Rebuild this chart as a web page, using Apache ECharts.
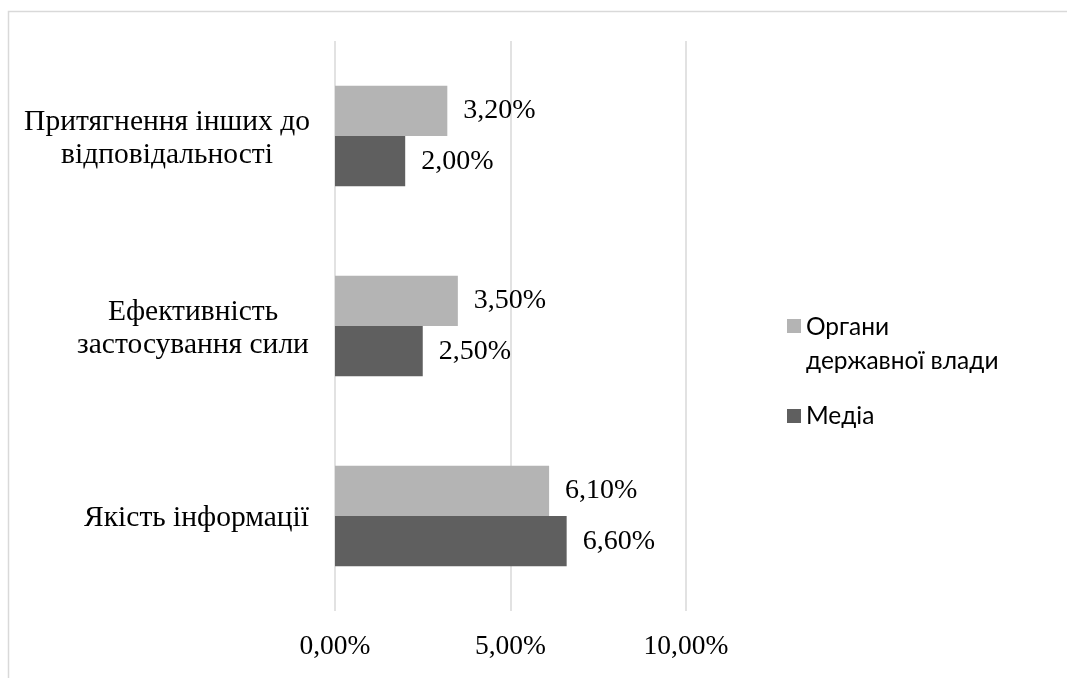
<!DOCTYPE html>
<html><head><meta charset="utf-8">
<script src="https://cdn.jsdelivr.net/npm/echarts@6/dist/echarts.min.js"></script>
<style>html,body{margin:0;padding:0;background:#fff}#c{width:1067px;height:678px}</style>
</head><body><div id="c"></div>
<script>
const categories = ['Якість інформації', 'Ефективність\nзастосування сили', 'Притягнення інших до\nвідповідальності'];
const seriesNames = ['Органи\nдержавної влади', 'Медіа'];
const organy = [6.1, 3.5, 3.2];
const media = [6.6, 2.5, 2.0];
const xTicks = [0, 5, 10];

const fmt = v => v.toFixed(2).replace('.', ',') + '%';
const chart = echarts.init(document.getElementById('c'));
const labelStyle = {show: true, position: 'right', distance: 16, formatter: p => fmt(p.value), fontFamily: 'Liberation Serif', fontSize: 28, color: '#000'};
const richBase = {align: 'center', fontFamily: 'Liberation Serif', fontSize: 29.5, lineHeight: 33, color: '#000'};
chart.setOption({
  animation: false,
  graphic: [{type:'rect', shape:{x:8.5,y:11.5,width:1100,height:700}, style:{fill:'none', stroke:'#d9d9d9', lineWidth:1.5}, silent:true}],
  grid: {left: 335, right: 381, top: 41, bottom: 67, containLabel: false},
  legend: {
    data: [
      {name: seriesNames[0], icon: 'path://M0,0L14,0L14,14L0,14Z M0,50L0,50'},
      {name: seriesNames[1], icon: 'path://M0,0L0,0 M0,18L14,18L14,32L0,32Z M0,50L0,50'}
    ],
    orient: 'vertical', left: 787, top: 310, padding: 0,
    itemWidth: 14, itemHeight: 50, itemGap: 13,
    textStyle: {fontFamily: 'Lato', fontSize: 24.5, color: '#000', lineHeight: 34}
  },
  xAxis: {
    type: 'value', min: xTicks[0], max: xTicks[xTicks.length-1], interval: xTicks[1]-xTicks[0],
    axisLine: {show: false}, axisTick: {show: false},
    splitLine: {lineStyle: {color: '#d9d9d9', width: 1.5}},
    axisLabel: {formatter: v => fmt(v), fontFamily: 'Liberation Serif', fontSize: 27.5, color: '#000', margin: 22}
  },
  yAxis: {
    type: 'category', data: categories,
    axisLine: {show: false}, axisTick: {show: false},
    axisLabel: {
      fontFamily: 'Liberation Serif', fontSize: 29.5, color: '#000', margin: 26, lineHeight: 33, padding: [5, 0, 0, 0],
      formatter: (v, i) => {
        if (v.indexOf('\n') < 0) return v;
        const k = i === 2 ? 'a' : 'b';
        return v.split('\n').map(s => '{' + k + '|' + s + '}').join('\n');
      },
      rich: {a: Object.assign({width: 284}, richBase), b: Object.assign({width: 232}, richBase)}
    }
  },
  series: [
    {name: seriesNames[0], type: 'bar', data: organy, barGap: '0%', barCategoryGap: '47%',
     itemStyle: {color: '#b4b4b4'}, label: labelStyle},
    {name: seriesNames[1], type: 'bar', data: media, barGap: '0%', barCategoryGap: '47%',
     itemStyle: {color: '#5f5f5f'}, label: labelStyle}
  ]
});
</script></body></html>
